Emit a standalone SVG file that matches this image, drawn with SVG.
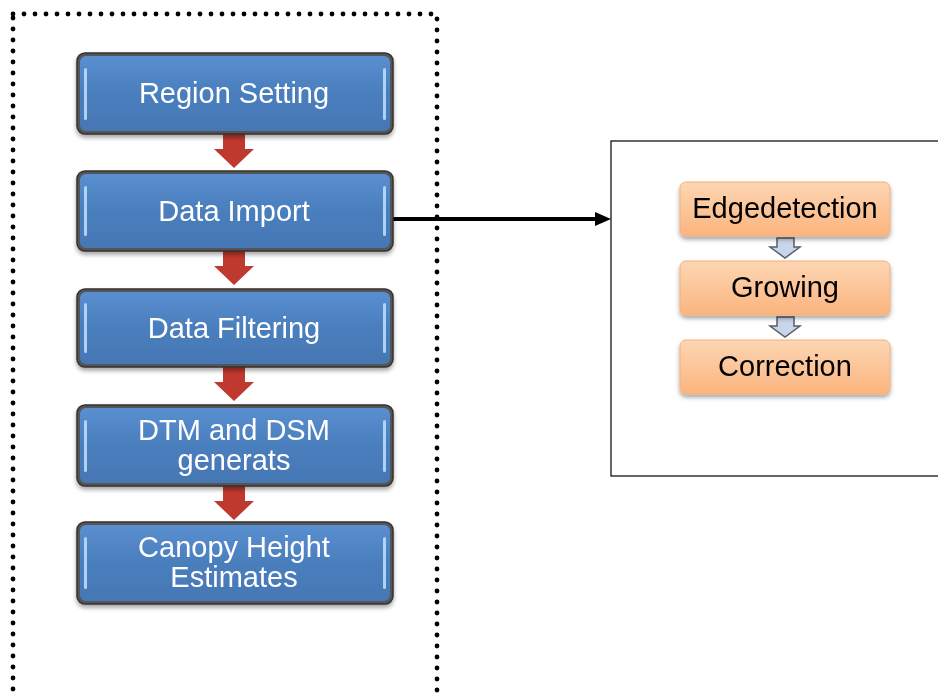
<svg xmlns="http://www.w3.org/2000/svg" width="938" height="693" viewBox="0 0 938 693">
<style>
.bframe{fill:#555;stroke:#333;stroke-width:1.5}
.bfill{fill:url(#blueg)}
.hl{fill:#b8dcf8;opacity:0.9}
.bt{font-family:Arial,"Liberation Sans",sans-serif;font-size:29px;fill:#fff;text-anchor:middle}
.ot{font-family:Arial,"Liberation Sans",sans-serif;font-size:29px;fill:#000;text-anchor:middle}
.obox{fill:url(#orgg);stroke:#f2b07a;stroke-width:1}
.red{fill:#c0392f}
.sm{fill:#c8d6ea;stroke:#5a5f66;stroke-width:1.5}
</style>
<defs>
<linearGradient id="blueg" x1="0" y1="0" x2="0" y2="1">
<stop offset="0" stop-color="#5a8fd0"/><stop offset="0.5" stop-color="#4a7ebd"/><stop offset="1" stop-color="#4677b5"/>
</linearGradient>
<linearGradient id="orgg" x1="0" y1="0" x2="0" y2="1">
<stop offset="0" stop-color="#fdd6b4"/><stop offset="1" stop-color="#fbb47e"/>
</linearGradient>
<filter id="sh" x="-10%" y="-10%" width="120%" height="130%">
<feDropShadow dx="0" dy="3" stdDeviation="2" flood-color="#000" flood-opacity="0.35"/>
</filter>
</defs>

<rect x="13" y="14" width="424" height="700" fill="none" stroke="#000" stroke-width="4.8" stroke-dasharray="0 11" stroke-linecap="round"/>

<rect x="611" y="141" width="340" height="335" fill="none" stroke="#000" stroke-width="1.2"/>

<g id="connectors">
<path class="red" d="M223,134 h22 v15 h9 l-20,19 l-20,-19 h9 z"/>
<path class="red" d="M223,251 h22 v15 h9 l-20,19 l-20,-19 h9 z"/>
<path class="red" d="M223,367 h22 v15 h9 l-20,19 l-20,-19 h9 z"/>
<path class="red" d="M223,486 h22 v15 h9 l-20,19 l-20,-19 h9 z"/>
<line x1="390" y1="219" x2="597" y2="219" stroke="#000" stroke-width="4"/>
<polygon points="595,212 611,219 595,226" fill="#000"/>
<path class="sm" d="M777,238 h17 v9 h6 l-15,11 l-15,-11 h7 z"/>
<path class="sm" d="M777,317 h17 v9 h6 l-15,11 l-15,-11 h7 z"/>
</g>

<g id="n1" filter="url(#sh)">
<rect class="bframe" x="77" y="53" width="316" height="81" rx="8"/>
<rect class="bfill" x="80" y="56" width="310" height="75" rx="6"/>
<rect class="hl" x="84" y="68" width="3" height="52" rx="1.5"/>
<rect class="hl" x="383" y="68" width="3" height="52" rx="1.5"/>
<text class="bt" x="234" y="103">Region Setting</text>
</g>
<g id="n2" filter="url(#sh)">
<rect class="bframe" x="77" y="171" width="316" height="80" rx="8"/>
<rect class="bfill" x="80" y="174" width="310" height="74" rx="6"/>
<rect class="hl" x="84" y="186" width="3" height="50" rx="1.5"/>
<rect class="hl" x="383" y="186" width="3" height="50" rx="1.5"/>
<text class="bt" x="234" y="221">Data Import</text>
</g>
<g id="n3" filter="url(#sh)">
<rect class="bframe" x="77" y="289" width="316" height="78" rx="8"/>
<rect class="bfill" x="80" y="292" width="310" height="72" rx="6"/>
<rect class="hl" x="84" y="303" width="3" height="50" rx="1.5"/>
<rect class="hl" x="383" y="303" width="3" height="50" rx="1.5"/>
<text class="bt" x="234" y="338">Data Filtering</text>
</g>
<g id="n4" filter="url(#sh)">
<rect class="bframe" x="77" y="405" width="316" height="81" rx="8"/>
<rect class="bfill" x="80" y="408" width="310" height="75" rx="6"/>
<rect class="hl" x="84" y="420" width="3" height="52" rx="1.5"/>
<rect class="hl" x="383" y="420" width="3" height="52" rx="1.5"/>
<text class="bt" x="234" y="440">DTM and DSM</text>
<text class="bt" x="234" y="470">generats</text>
</g>
<g id="n5" filter="url(#sh)">
<rect class="bframe" x="77" y="522" width="316" height="82" rx="8"/>
<rect class="bfill" x="80" y="525" width="310" height="76" rx="6"/>
<rect class="hl" x="84" y="537" width="3" height="52" rx="1.5"/>
<rect class="hl" x="383" y="537" width="3" height="52" rx="1.5"/>
<text class="bt" x="234" y="557">Canopy Height</text>
<text class="bt" x="234" y="587">Estimates</text>
</g>

<g id="e1" filter="url(#sh)">
<rect class="obox" x="680" y="182" width="210" height="54" rx="6"/>
<text class="ot" x="785" y="218">Edgedetection</text>
</g>
<g id="e2" filter="url(#sh)">
<rect class="obox" x="680" y="261" width="210" height="54" rx="6"/>
<text class="ot" x="785" y="297">Growing</text>
</g>
<g id="e3" filter="url(#sh)">
<rect class="obox" x="680" y="340" width="210" height="54" rx="6"/>
<text class="ot" x="785" y="376">Correction</text>
</g>
</svg>
